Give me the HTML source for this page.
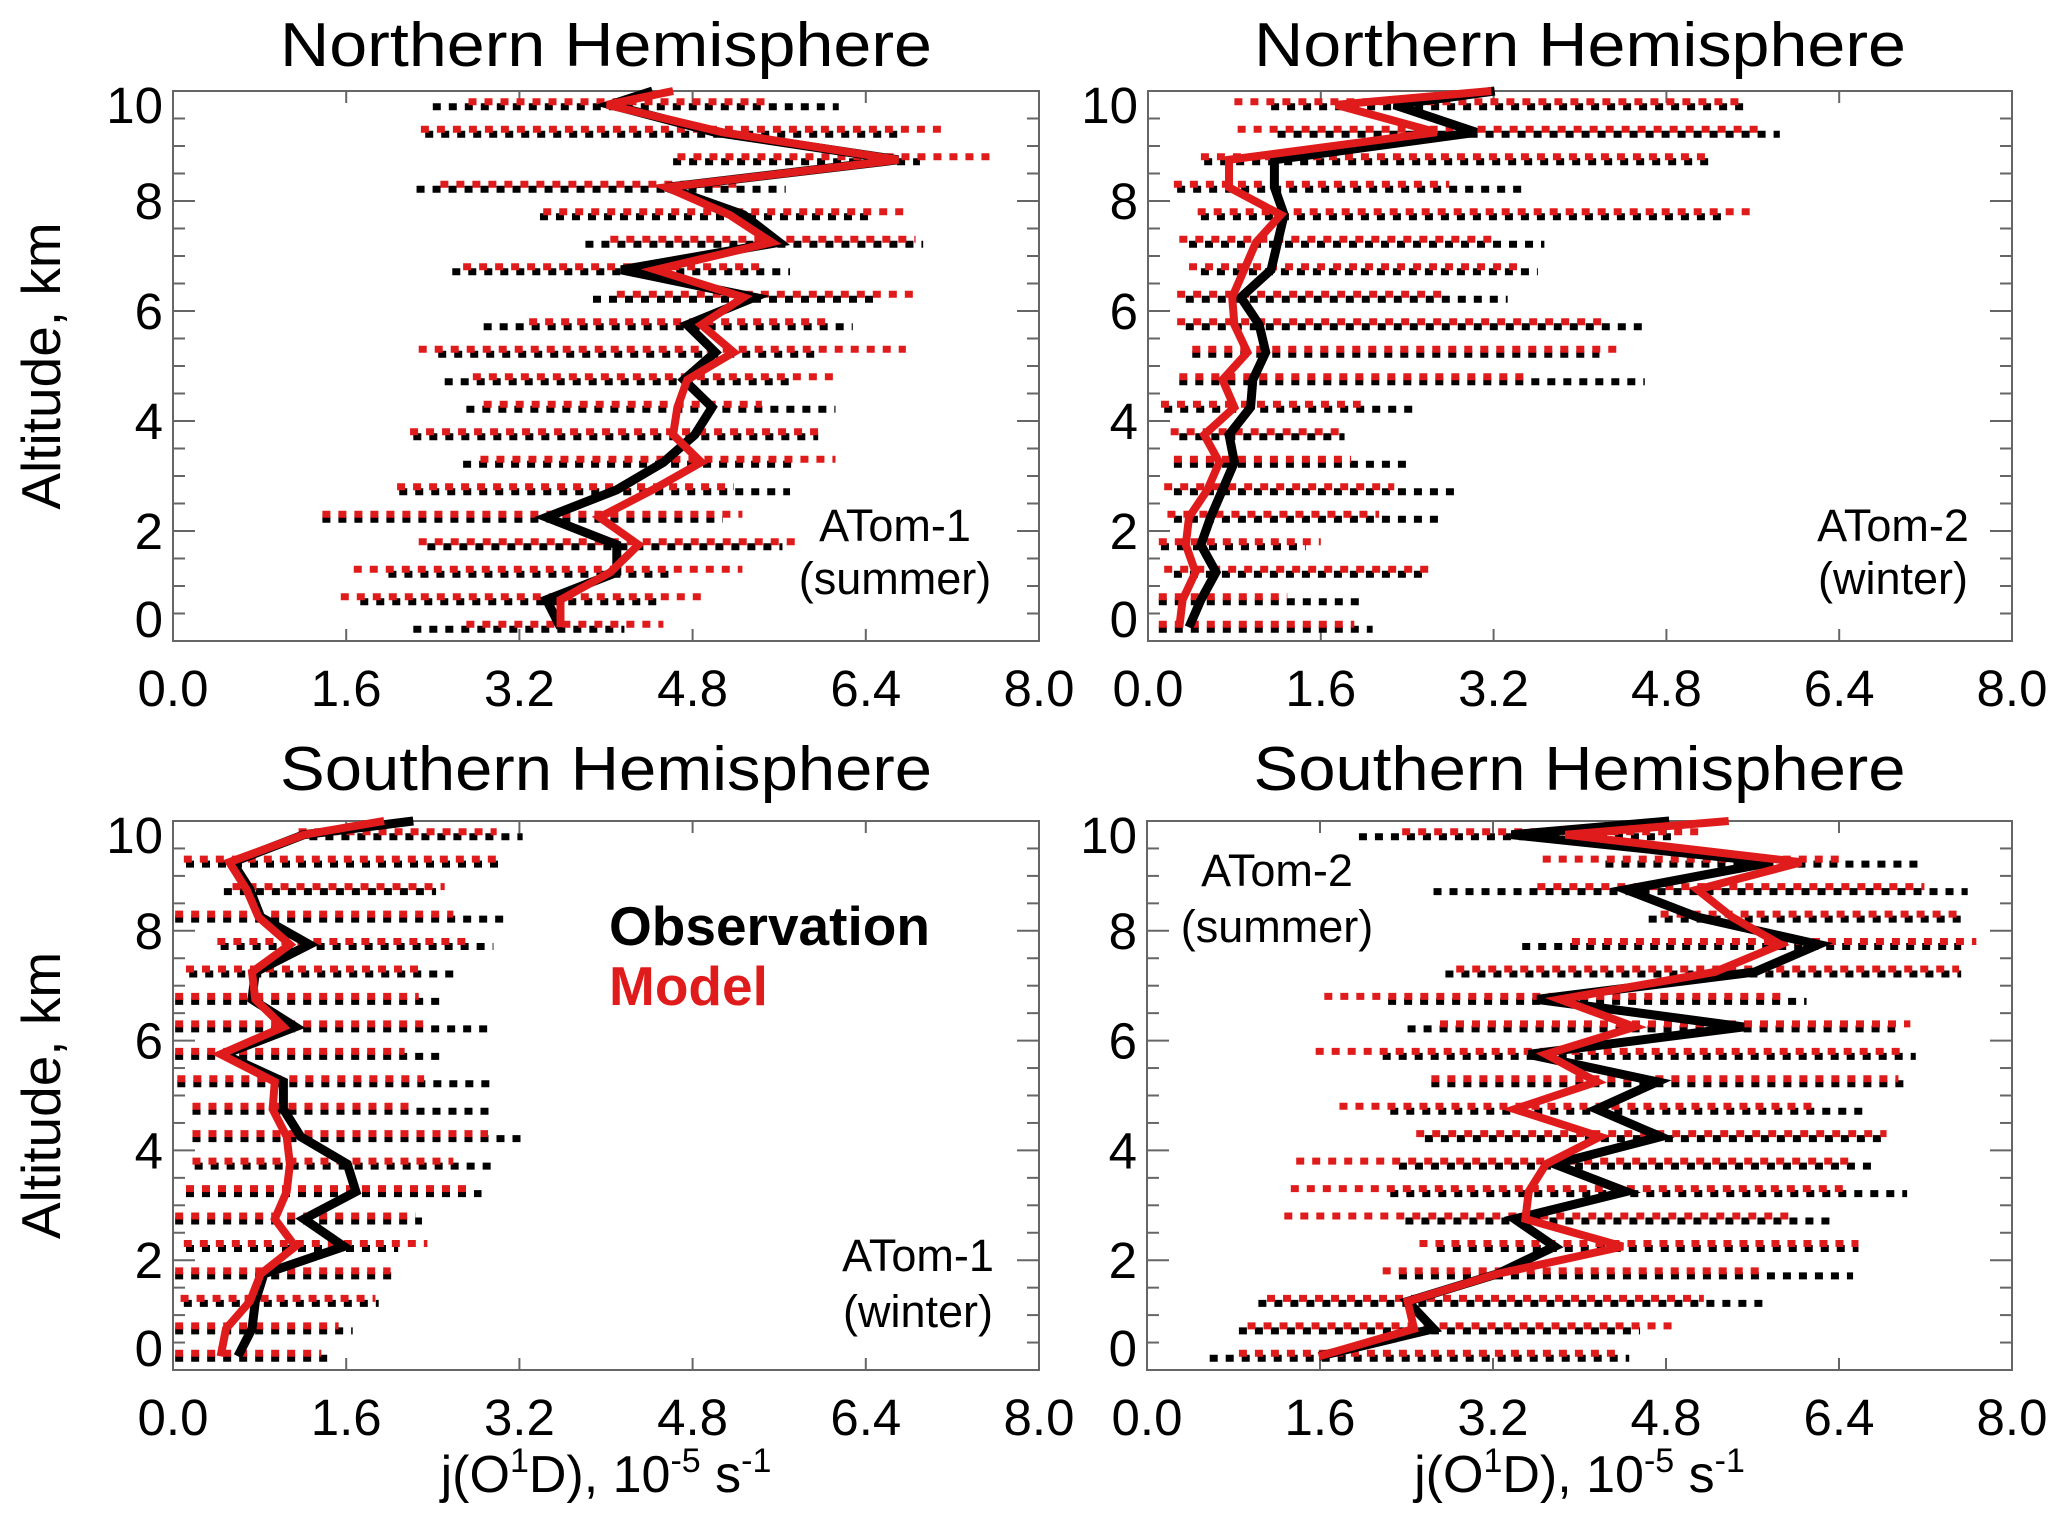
<!DOCTYPE html>
<html><head><meta charset="utf-8"><style>
html,body{margin:0;padding:0;background:#fff;}
svg{display:block;font-family:"Liberation Sans",Arial,sans-serif;}
</style></head><body>
<svg id="fig" width="2067" height="1526" viewBox="0 0 2067 1526" xmlns="http://www.w3.org/2000/svg"></svg>
<script>
// Shared altitude levels (km) for bars and means; top point at 10 km for mean lines
const levels = [0.25,0.75,1.25,1.75,2.25,2.75,3.25,3.75,4.25,4.75,5.25,5.75,6.25,6.75,7.25,7.75,8.25,8.75,9.25,9.75];
const topAlt = 10;
const xTicks = [0.0,1.6,3.2,4.8,6.4,8.0];
const xTickLabels = ["0.0","1.6","3.2","4.8","6.4","8.0"];
const yTicks = [0,2,4,6,8,10];
const yTickLabels = ["0","2","4","6","8","10"];

// Panel TL: Northern Hemisphere ATom-1 summer
const tlObsMin = [2.22,1.73,1.99,2.35,1.38,2.09,2.68,2.22,2.71,2.51,2.45,2.87,3.88,2.58,3.81,3.39,2.25,4.62,2.33,2.40];
const tlObsMax = [4.17,4.49,4.62,5.63,5.08,5.70,5.76,5.96,6.12,5.76,5.96,6.28,6.51,5.70,6.93,6.47,5.66,6.90,6.73,6.15];
const tlModMin = [2.71,1.55,1.67,2.27,1.38,2.07,2.84,2.19,2.87,2.77,2.27,3.29,4.10,2.68,4.04,3.42,2.47,4.66,2.29,2.73];
const tlModMax = [4.53,4.92,5.26,5.79,5.26,5.18,6.12,5.96,5.44,6.15,6.77,6.05,6.90,5.47,6.86,6.80,5.27,7.61,7.16,5.47];
const tlObsMean = [3.58,3.45,4.10,4.10,3.45,4.10,4.53,4.82,4.98,4.72,5.01,4.75,5.37,4.14,5.60,5.27,4.56,6.70,5.01,4.04,4.43];
const tlModMean = [3.58,3.58,4.04,4.30,3.94,4.43,4.88,4.62,4.66,4.75,5.18,4.88,5.27,4.46,5.53,5.14,4.56,6.70,5.08,4.01,4.62];

// Panel TR: Northern Hemisphere ATom-2 winter
const trObsMin = [0.10,0.10,0.24,0.12,0.24,0.24,0.24,0.29,0.15,0.29,0.41,0.35,0.35,0.49,0.38,0.49,0.27,0.52,1.20,1.14];
const trObsMax = [2.08,2.02,2.56,1.46,2.70,2.87,2.39,1.82,2.50,4.60,4.18,4.60,3.33,3.61,3.67,5.37,3.50,5.22,5.85,5.56];
const trModMin = [0.10,0.10,0.15,0.10,0.18,0.15,0.24,0.21,0.12,0.29,0.41,0.27,0.27,0.38,0.29,0.46,0.24,0.49,0.83,0.80];
const trModMax = [1.91,1.29,2.62,1.60,2.14,2.28,1.88,1.82,1.97,3.55,4.40,4.26,2.73,3.47,3.21,5.59,2.79,5.20,5.71,5.51];
const trObsMean = [0.38,0.49,0.63,0.49,0.58,0.69,0.80,0.75,0.95,0.97,1.09,1.03,0.86,1.14,1.20,1.26,1.17,1.17,3.04,2.28,3.21];
const trModMean = [0.29,0.32,0.44,0.35,0.38,0.55,0.66,0.52,0.80,0.69,0.92,0.80,0.78,0.89,1.00,1.23,0.75,0.75,2.67,1.74,3.18];

// Panel BL: Southern Hemisphere ATom-1 winter
const blObsMin = [0.02,0.02,0.10,0.02,0.12,0.02,0.12,0.20,0.18,0.18,0.04,0.02,0.02,0.02,0.15,0.44,0.02,0.47,0.12,1.26];
const blObsMax = [1.45,1.66,1.90,2.08,2.08,2.30,2.85,2.96,3.28,2.96,2.96,2.46,2.93,2.46,2.59,2.96,3.09,2.43,3.07,3.23];
const blModMin = [0.02,0.02,0.07,0.02,0.10,0.02,0.12,0.18,0.18,0.18,0.04,0.02,0.02,0.02,0.12,0.41,0.02,0.55,0.10,1.16];
const blModMax = [1.37,1.53,1.87,2.01,2.35,2.24,2.72,2.59,2.91,2.22,2.32,2.14,2.32,2.27,2.27,2.72,2.59,2.51,3.04,2.99];
const blObsMean = [0.60,0.73,0.76,0.84,1.58,1.21,1.69,1.61,1.18,1.02,1.02,0.47,1.13,0.73,0.76,1.26,0.81,0.71,0.55,1.21,2.22];
const blModMean = [0.44,0.49,0.71,0.81,1.13,0.94,1.05,1.08,1.05,0.92,0.94,0.44,1.02,0.76,0.73,1.08,0.79,0.68,0.52,1.21,1.95];

// Panel BR: Southern Hemisphere ATom-2 summer
const brObsMin = [0.58,0.85,1.03,2.33,2.68,2.39,2.25,2.33,2.57,2.25,2.63,2.18,2.41,2.23,2.76,3.47,4.64,2.65,4.24,1.96];
const brObsMax = [4.46,4.56,5.73,6.53,6.58,6.37,7.03,6.71,6.79,6.66,7.03,7.11,6.92,6.10,7.53,7.53,7.56,7.59,7.19,4.88];
const brModMin = [0.85,0.93,1.11,2.18,2.52,1.27,1.33,1.38,2.49,1.78,2.63,1.56,2.71,1.64,2.86,3.93,4.75,3.61,3.66,2.36];
const brModMax = [4.40,4.91,5.15,5.73,6.58,5.99,6.50,6.55,6.84,6.15,6.95,7.03,7.06,5.86,7.51,7.67,7.53,7.19,6.45,5.15];
const brObsMean = [1.59,2.65,2.41,3.24,3.77,3.40,4.43,3.77,4.75,4.16,4.72,3.53,5.52,3.61,5.62,6.21,5.09,4.43,5.78,3.37,4.83];
const brModMean = [1.59,2.47,2.41,3.24,4.40,3.50,3.53,3.69,4.19,3.40,4.16,3.69,4.51,3.82,5.25,5.86,5.41,5.09,6.05,3.87,5.38];

const NS = "http://www.w3.org/2000/svg";
const svg = document.getElementById('fig');
function mk(tag, attrs, parent){ const e=document.createElementNS(NS,tag); for(const k in attrs) e.setAttribute(k,attrs[k]); (parent||svg).appendChild(e); return e; }

const panels = [
 {key:'tl', L:173,T:91,R:1039,B:641, title:'Northern Hemisphere', ty:66, obsMin:tlObsMin,obsMax:tlObsMax,modMin:tlModMin,modMax:tlModMax,obsMean:tlObsMean,modMean:tlModMean, ann:['ATom-1','(summer)'], ax:895, ay:[541,594], ylab:true, xlab:false},
 {key:'tr', L:1148,T:91,R:2012,B:641, title:'Northern Hemisphere', ty:66, obsMin:trObsMin,obsMax:trObsMax,modMin:trModMin,modMax:trModMax,obsMean:trObsMean,modMean:trModMean, ann:['ATom-2','(winter)'], ax:1893, ay:[541,594], ylab:false, xlab:false},
 {key:'bl', L:173,T:821,R:1039,B:1370, title:'Southern Hemisphere', ty:790, obsMin:blObsMin,obsMax:blObsMax,modMin:blModMin,modMax:blModMax,obsMean:blObsMean,modMean:blModMean, ann:['ATom-1','(winter)'], ax:918, ay:[1271,1327], ylab:true, xlab:true},
 {key:'br', L:1147,T:821,R:2012,B:1370, title:'Southern Hemisphere', ty:790, obsMin:brObsMin,obsMax:brObsMax,modMin:brModMin,modMax:brModMax,obsMean:brObsMean,modMean:brModMean, ann:['ATom-2','(summer)'], ax:1277, ay:[886,942], ylab:false, xlab:true},
];

panels.forEach(p=>{
  const g = mk('g',{});
  
  
  const W=p.R-p.L, H=p.B-p.T;
  const xs = v => p.L + v/8*W;
  const ys = a => p.T + (10-a)/10*H;
  const t = mk('text',{x:(p.L+p.R)/2,y:p.ty,'text-anchor':'middle','font-size':62,fill:'#000',textLength:652,lengthAdjust:'spacingAndGlyphs'},g);
  t.textContent = p.title;
  
  
  const fr = mk('rect',{x:p.L,y:p.T,width:W,height:H,fill:'none',stroke:'#666','stroke-width':2},g);
  
  
  for(let a=0.5;a<10;a+=0.5){
    const major = Math.abs(a%2)<1e-6;
    const len = major?22:12;
    mk('line',{x1:p.L,x2:p.L+len,y1:ys(a),y2:ys(a),stroke:'#666','stroke-width':2},g);
    mk('line',{x1:p.R,x2:p.R-len,y1:ys(a),y2:ys(a),stroke:'#666','stroke-width':2},g);
  }
  xTicks.forEach((v,i)=>{
    mk('line',{x1:xs(v),x2:xs(v),y1:p.B,y2:p.B-12,stroke:'#666','stroke-width':2},g);
    mk('line',{x1:xs(v),x2:xs(v),y1:p.T,y2:p.T+12,stroke:'#666','stroke-width':2},g);
    const tl = mk('text',{x:xs(v),y:p.B+65,'text-anchor':'middle','font-size':51,fill:'#000'},g);
    tl.textContent = xTickLabels[i];
    
    
  });
  yTicks.forEach((a,i)=>{
    let cy = ys(a);
    if(a===10) cy = p.T+14; if(a===0) cy = p.B-22;
    const tl = mk('text',{x:p.L-10,y:cy+18,'text-anchor':'end','font-size':51,fill:'#000'},g);
    tl.textContent = yTickLabels[i];
    
    
  });
  levels.forEach((a,i)=>{
    const b = mk('line',{x1:xs(p.obsMin[i]),x2:xs(p.obsMax[i]),y1:ys(a)+2,y2:ys(a)+2,stroke:'#000','stroke-width':7,'stroke-dasharray':'8 8'},g);
    
    
  });
  levels.forEach((a,i)=>{
    const b = mk('line',{x1:xs(p.modMin[i]),x2:xs(p.modMax[i]),y1:ys(a)-3,y2:ys(a)-3,stroke:'#e01b1b','stroke-width':7,'stroke-dasharray':'8 8'},g);
    
    
  });
  const alts = levels.concat([topAlt]);
  const ptsO = alts.map((a,i)=>xs(p.obsMean[i]).toFixed(1)+','+ys(a).toFixed(1)).join(' ');
  const lo = mk('polyline',{points:ptsO,fill:'none',stroke:'#000','stroke-width':9,'stroke-linejoin':'miter'},g);
  
  
  const ptsM = alts.map((a,i)=>xs(p.modMean[i]).toFixed(1)+','+ys(a).toFixed(1)).join(' ');
  const lm = mk('polyline',{points:ptsM,fill:'none',stroke:'#e01b1b','stroke-width':8,'stroke-linejoin':'miter'},g);
  
  
  p.ann.forEach((s,k)=>{
    const at = mk('text',{x:p.ax,y:p.ay[k],'text-anchor':'middle','font-size':45,fill:'#000'},g);
    at.textContent = s;
    
    
  });
  if(p.ylab){
    const cy=(p.T+p.B)/2;
    const yl = mk('text',{x:0,y:0,'text-anchor':'middle','font-size':55,fill:'#000',transform:`translate(60,${cy}) rotate(-90)`},g);
    yl.textContent='Altitude, km';
    
    
  }
  if(p.xlab){
    const xl = mk('text',{x:(p.L+p.R)/2,y:1492,'text-anchor':'middle','font-size':52,fill:'#000'},g);
    xl.innerHTML = 'j(O<tspan dy="-20" font-size="34">1</tspan><tspan dy="20">D), 10</tspan><tspan dy="-20" font-size="34">-5</tspan><tspan dy="20"> s</tspan><tspan dy="-20" font-size="34">-1</tspan>';
    
    
  }
});
const lg1 = mk('text',{x:609,y:945,'font-size':55,'font-weight':'bold',fill:'#000'});
lg1.textContent='Observation';


const lg2 = mk('text',{x:609,y:1005,'font-size':55,'font-weight':'bold',fill:'#e01b1b'});
lg2.textContent='Model';


</script>
</body></html>
